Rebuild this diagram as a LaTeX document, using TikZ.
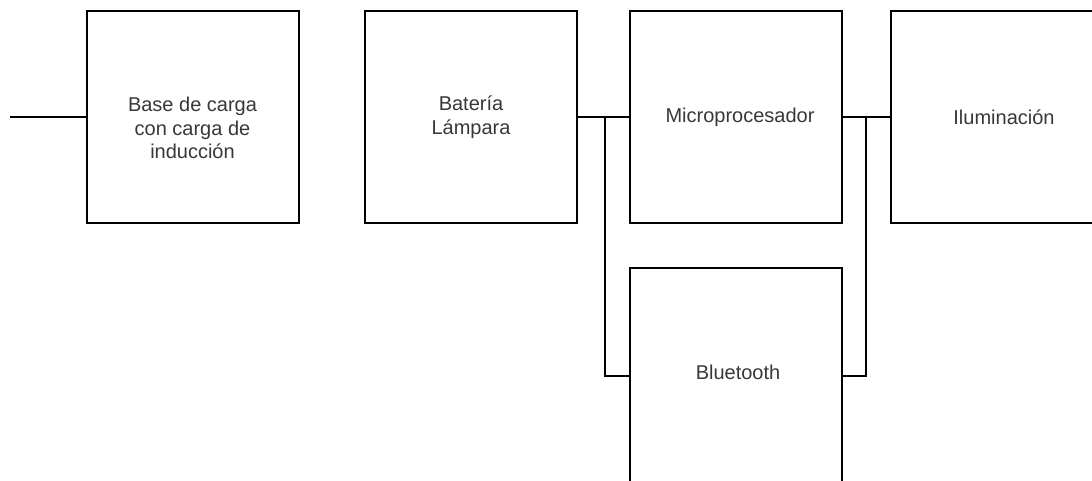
\documentclass[tikz,border=0pt]{standalone}
\usepackage{fontspec}
\setmainfont{Liberation Sans}
\begin{document}
\begin{tikzpicture}[x=0.75pt,y=-0.75pt,
  blk/.style={draw=black,line width=1.5pt,rectangle,minimum width=159pt,minimum height=158.5pt,inner sep=0pt,outer sep=0pt},
  lbl/.style={text=black!78,font=\fontsize{15}{17.8}\selectfont,align=center},
  wire/.style={draw=black,line width=1.5pt}]
\clip (0,0) rectangle (1092,480);
\fill[white] (0,0) rectangle (1092,480);
\node[blk] (base) at (192.5,117) {};
\node[lbl] (basetxt) at (192.5,128) {Base de carga\\con carga de\\inducción};
\node[blk] (bat) at (471,117) {};
\node[lbl] (battxt) at (471,117) {Batería\\Lámpara};
\node[blk] (mic) at (736,117) {};
\node[lbl] (mictxt) at (740,117) {Microprocesador};
\node[blk] (ilu) at (996.5,117) {};
\node[lbl] (ilutxt) at (1004,117) {Iluminación};
\node[blk,minimum height=162pt] (bt) at (736,376) {};
\node[lbl] (bttxt) at (738,372) {Bluetooth};
\coordinate (in) at (10,117);
\coordinate (j1) at (605,117);
\coordinate (j2) at (866,117);
\draw[wire] (in) -- (base.west);
\draw[wire] (bat.east) -- (mic.west);
\draw[wire] (j1) |- (bt.west);
\draw[wire] (mic.east) -- (ilu.west);
\draw[wire] (j2) |- (bt.east);
\end{tikzpicture}
\end{document}
